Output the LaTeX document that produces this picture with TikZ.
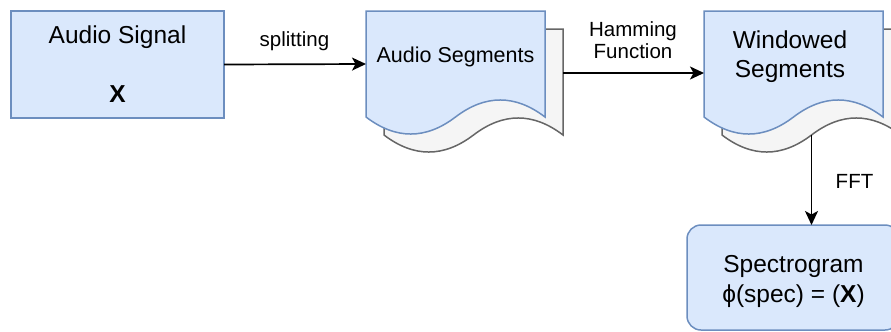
\documentclass[tikz,border=0pt]{standalone}
\usepackage{fontspec}
\setmainfont{Liberation Sans}
\usetikzlibrary{arrows.meta}
\definecolor{bfill}{HTML}{DAE8FC}
\definecolor{bline}{HTML}{6C8EBF}
\definecolor{gfill}{HTML}{F5F5F5}
\definecolor{gline}{HTML}{666666}
\newcommand\mydocshape[4]{%
  \path[fill=#3,draw=#4,line width=1.5bp,shift={(#1,#2)}]
    (0,0) -- (179,0) -- (179,106)
    .. controls (149.2,83.3) and (119.3,83.3) .. (89.5,106)
    .. controls (59.7,128.7) and (29.8,128.7) .. (0,106) -- cycle;}
\begin{document}
\begin{tikzpicture}[x=1bp,y=-1bp,
  box/.style={draw=bline,fill=bfill,line width=1.5bp,inner sep=0pt,outer sep=0pt},
  anchorbox/.style={minimum width=179bp,minimum height=106bp,inner sep=0pt,outer sep=0pt,anchor=north west},
  arr/.style={line width=1.7bp,-{Stealth[length=14bp,width=13bp,inset=3.5bp]}},
  big/.style={font=\fontsize{24.5bp}{28bp}\selectfont,inner sep=0pt,anchor=base},
  mid/.style={font=\fontsize{21.5bp}{25bp}\selectfont,inner sep=0pt,anchor=base},
  lab/.style={font=\fontsize{20.5bp}{23bp}\selectfont,inner sep=0pt,anchor=base}]
\clip (0,0) rectangle (891,331);
\useasboundingbox (0,0) rectangle (891,331);
% Audio signal
\node[box,minimum width=213bp,minimum height=107bp,anchor=north west] (sig) at (11,11) {};
\node[big] (sigt) at (117.5,43) {Audio Signal};
\node[big] (sigx) at (117.5,102) {\textbf{X}};
% Audio segments
\mydocshape{384}{29}{gfill}{gline}
\mydocshape{366}{11}{bfill}{bline}
\node[anchorbox] (segback) at (384,29) {};
\node[anchorbox] (segfront) at (366,11) {};
\node[mid] (segt) at (455.5,62.5) {Audio Segments};
% Windowed segments
\mydocshape{722}{29}{gfill}{gline}
\mydocshape{704}{11}{bfill}{bline}
\node[anchorbox] (winback) at (722,29) {};
\node[anchorbox] (winfront) at (704,11) {};
\node[big] (wint1) at (790,48) {Windowed};
\node[big] (wint2) at (790,77.5) {Segments};
% Spectrogram
\node[box,rounded corners=14bp,minimum width=212bp,minimum height=105bp,anchor=north west] (spec) at (687,225) {};
\node[big] (spect1) at (793.5,272) {Spectrogram};
\node[big] (spect2) at (793.5,302) {ϕ(spec) = (\textbf{X})};
% connectors
\draw[arr] (sig.east) -- (segfront.west);
\node[lab] (l1) at (294.5,46.5) {splitting};
\draw[arr] ([yshift=9bp]segback.east) -- ([yshift=9bp]segback.east -| winfront.west);
\node[lab] (l2a) at (633,36) {Hamming};
\node[lab] (l2b) at (633,58) {Function};
\draw[arr] (winback.south) -- (winback.south |- spec.north);
\node[lab] (l3) at (854.5,188) {FFT};
\end{tikzpicture}
\end{document}
